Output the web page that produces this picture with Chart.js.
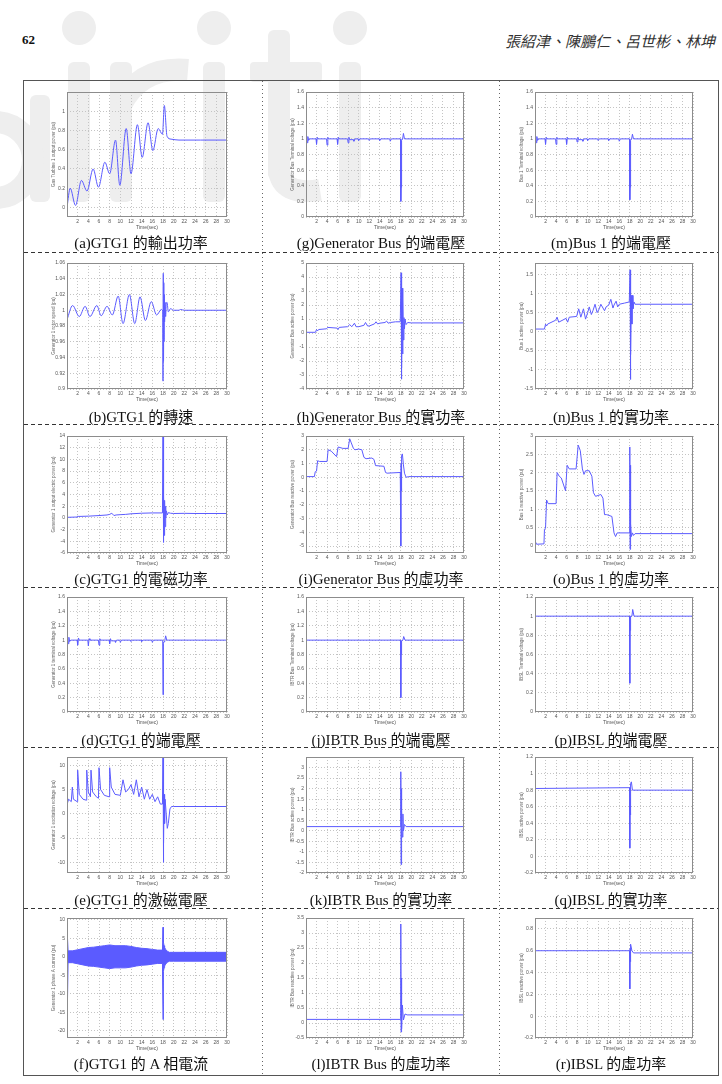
<!DOCTYPE html>
<html><head><meta charset="utf-8">
<script src="https://cdn.jsdelivr.net/npm/chart.js@4.4.1/dist/chart.umd.min.js"></script>
<style>
html,body{margin:0;padding:0;background:#fff;}
body{width:722px;height:1084px;position:relative;overflow:hidden;}
#wm{position:absolute;left:0;top:0;}
.pg{position:absolute;left:22px;top:32px;font:bold 13px "Liberation Serif";color:#111;}
.auth{position:absolute;left:505px;top:30px;font:italic 15px "Noto Sans CJK TC";white-space:nowrap;color:#333;}
#box{position:absolute;left:23px;top:80px;width:694px;height:994px;border:1px solid #555;}
.vsep{position:absolute;top:81px;height:994px;width:1px;background:repeating-linear-gradient(to bottom,#666 0 1px,transparent 1px 4px);}
.hsep{position:absolute;left:24px;width:694px;height:1px;background:repeating-linear-gradient(to right,#333 0 4px,transparent 4px 7px);}
.cap{position:absolute;font:15px "Liberation Serif","Noto Sans CJK TC";transform:translate(-50%,-50%);white-space:nowrap;color:#111;}
canvas{position:absolute;}
</style></head><body>
<svg id="wm" width="722" height="260" viewBox="0 0 722 260">
 <g fill="#eeeeee" stroke="none">
  <circle cx="79" cy="28" r="17"/><rect x="68" y="62" width="22" height="140" rx="6"/>
  <rect x="110" y="62" width="22" height="140" rx="6"/>
  <circle cx="214" cy="28" r="17"/><rect x="203" y="62" width="22" height="140" rx="6"/>
  <rect x="268" y="30" width="22" height="150" rx="6"/><rect x="250" y="62" width="72" height="20" rx="4"/>
  <circle cx="350" cy="28" r="17"/><rect x="339" y="62" width="22" height="140" rx="6"/>
  <rect x="30" y="95" width="20" height="107" rx="6"/>
 </g>
 <g fill="none" stroke="#eeeeee" stroke-width="22">
  <path d="M121 105 Q140 66 188 70"/>
  <path d="M279 170 Q282 196 320 190"/>
  <circle cx="-5" cy="160" r="38"/>
 </g>
</svg>
<div class="pg">62</div>
<div class="auth">張紹津、陳鵬仁、呂世彬、林坤</div>
<div id="box"></div>
<div class="vsep" style="left:262px"></div>
<div class="vsep" style="left:499px"></div>
<div class="hsep" style="top:252px"></div>
<div class="hsep" style="top:424px"></div>
<div class="hsep" style="top:587px"></div>
<div class="hsep" style="top:747px"></div>
<div class="hsep" style="top:908px"></div>
<script>
// ---------- DATA ----------
const xTicks = [0,2,4,6,8,10,12,14,16,18,20,22,24,26,28,30];

// (a) GTG1 output power
const aTime  = [0,0.6,1.6,2.7,3.75,4.9,5.9,7.1,8.0,9.1,9.9,11.1,12.0,13.2,14.1,15.2,16.1,17.1,17.9,18.25,18.75,19.5,21,25,30];
const aValue = [0,0.20,0.02,0.28,0.17,0.40,0.21,0.47,0.35,0.70,0.23,0.82,0.35,0.86,0.52,0.88,0.59,0.82,0.76,1.06,0.74,0.71,0.70,0.70,0.70];
const aTicks = [0,0.2,0.4,0.6,0.8,1];

// (b) GTG1 rotor speed
const bTime  = [0,1.05,2.3,3.4,4.3,5.6,6.4,7.5,8.5,9.6,10.5,11.7,12.7,13.7,14.7,15.8,16.8,17.7,17.95,18.0,18.05,18.1,18.15,18.2,18.25,18.3,18.4,18.5,18.6,18.75,19.0,19.4,20,21,21.3,22,30];
const bValue = [0.988,1.006,0.992,1.005,0.992,1.006,0.993,1.005,0.994,1.018,0.983,1.020,0.983,1.017,0.987,1.011,0.994,1.001,0.999,0.91,1.047,0.935,1.035,0.96,1.02,0.985,1.01,0.992,1.008,1.01,0.998,1.002,1.0,1.0,1.001,1.0,1.0];
const bTicks = [0.9,0.92,0.94,0.96,0.98,1,1.02,1.04,1.06];

// (c) GTG1 electric power
const cTime  = [0,0.02,0.04,0.1,1.9,2.0,2.2,4,6,7.5,8,8.4,8.8,9.2,10,11,12,14,16,17.9,18.0,18.03,18.08,18.13,18.18,18.23,18.3,18.38,18.46,18.55,18.65,18.8,19.0,19.4,20,22,24,30];
const cValue = [-8,16,0.1,0.1,0.15,0.3,0.25,0.3,0.4,0.5,0.6,0.8,0.4,0.5,0.55,0.6,0.7,0.8,0.85,0.85,16,-3.5,4.8,-4.2,4.0,-3.0,3.0,-1.5,2.0,0.0,1.2,0.5,0.9,0.8,0.75,0.78,0.75,0.75];
const cTicks = [-6,-4,-2,0,2,4,6,8,10,12,14];

// terminal voltages (d) GTG1, (g) Generator Bus, (m) Bus 1
const voltTime = [0,0.03,0.08,0.15,0.25,0.35,0.5,0.7,1.9,2.0,2.15,2.3,3.9,4.0,4.15,4.3,5.9,6.0,6.15,6.3,7.9,8.0,8.15,8.3,9.0,9.1,9.3,9.9,10.0,10.2,11.9,12.0,12.2,13.9,14.0,14.2,15.9,16.0,16.2,17.95,18.0,18.05,18.1,18.2,18.35,18.5,18.7,19.0,30];
const dValue = [1.0,1.56,0.88,1.03,0.95,1.04,0.98,1.0,1.0,0.93,1.03,1.0,1.0,0.92,1.02,1.0,1.0,0.93,1.02,1.0,1.0,0.95,1.02,0.99,0.99,0.97,1.0,1.0,0.97,1.0,1.0,0.98,1.0,1.0,0.98,1.0,1.0,0.97,1.0,1.0,0.24,0.6,0.95,0.98,1.0,1.06,1.0,1.0,1.0];
const gValue = [1.0,1.57,0.89,1.03,0.95,1.03,0.98,1.0,1.0,0.93,1.02,1.0,1.0,0.92,1.02,1.0,1.0,0.93,1.02,1.0,1.0,0.95,1.02,0.99,0.99,0.97,1.0,1.0,0.98,1.0,1.0,0.98,1.0,1.0,0.98,1.0,1.0,0.97,1.0,1.0,0.2,0.38,0.95,0.98,1.0,1.07,1.0,1.0,1.0];
const mValue = [1.0,1.56,0.88,1.03,0.95,1.03,0.98,1.0,1.0,0.93,1.02,1.0,1.0,0.93,1.02,1.0,1.0,0.93,1.02,1.0,1.0,0.96,1.02,0.99,0.99,0.97,1.0,1.0,0.98,1.0,1.0,0.98,1.0,1.0,0.98,1.0,1.0,0.97,1.0,1.0,0.22,0.38,0.95,0.98,1.0,1.06,1.0,1.0,1.0];
const voltTicks = [0,0.2,0.4,0.6,0.8,1,1.2,1.4,1.6];

// (e) GTG1 excitation voltage
const eTime  = [0,0.02,0.05,0.3,0.8,1.0,1.2,1.9,2.0,2.3,3.0,3.6,3.7,4.0,4.4,4.5,4.8,5.5,5.9,6.0,6.3,7.0,7.9,8.0,8.3,9.0,10.0,10.5,11.0,11.5,12.0,12.5,13.0,13.5,14.0,14.5,15.0,15.5,16.0,16.5,17.0,17.5,17.9,18.0,18.05,18.1,18.15,18.2,18.3,18.4,18.6,18.8,19.0,19.3,19.6,20,30];
const eValue = [-14,14,2,3,2.5,5.5,3,2.5,9,4,3,2.8,9,4.5,3.5,9,4.5,3.5,3.2,9.5,5,3.8,3.5,9.5,5.5,4,3.8,7,4.5,5,6,4,7,3.5,5.5,3,5,3,4,2.5,3.5,2,2,14,-10,8,-6,4,-2,3,0,-3,-2,1,1.5,1.5,1.5];
const eTicks = [-10,-5,0,5,10];

// (f) GTG1 phase A current (envelope of the AC band)
const fTime  = [0,0.05,0.2,1,2,3,4,5,6,7,8,9,10,11,12,13,14,15,16,17,17.9,18.0,18.05,18.1,18.2,18.3,18.5,18.8,19.2,20,30];
const fUpper = [8,8,1.6,1.6,1.9,2.2,2.5,2.6,2.8,3.0,3.2,3.0,3.0,3.0,2.8,2.5,2.3,2.2,2.0,1.8,1.8,8,5,4,3,2.5,2,1.5,1.2,1.2,1.2];
const fLower = [-20,-20,-1.6,-1.6,-1.9,-2.2,-2.5,-2.6,-2.8,-3.0,-3.2,-3.0,-3.0,-3.0,-2.8,-2.5,-2.3,-2.2,-2.0,-1.8,-1.8,-17,-6,-4,-3,-2.5,-2,-1.5,-1.2,-1.2,-1.2];
const fTicks = [-20,-15,-10,-5,0,5,10];

// (h) Generator Bus active power
const hTime  = [0,1.8,2.0,2.2,2.4,3.9,4.1,5.9,6.1,6.3,7.9,8.3,8.7,9.2,9.5,10,11,11.3,11.7,12,13,13.3,13.6,14,15,15.3,15.6,16,17,17.9,18.05,18.1,18.15,18.2,18.3,18.35,18.4,18.5,18.6,18.7,18.8,19,19.3,20,30];
const hValue = [0.05,0.05,0.25,0.15,0.25,0.3,0.4,0.35,0.25,0.4,0.45,0.6,0.45,0.7,0.45,0.45,0.55,0.75,0.5,0.5,0.65,0.8,0.65,0.7,0.75,0.85,0.7,0.75,0.8,0.8,4.3,-3.3,4.2,-2.5,3.2,-1.5,2.5,-0.5,1.1,0.3,1.0,0.6,0.75,0.72,0.72];
const hTicks = [-4,-3,-2,-1,0,1,2,3,4,5];

// (i) Generator Bus reactive power
const iTime  = [0,1.6,1.75,2.0,2.2,2.6,4.0,4.2,4.8,5.8,6.1,7.0,8.0,8.3,8.6,9.0,9.3,10.0,10.6,11.0,11.4,12.5,12.9,13.2,14.8,15.1,15.4,17.9,18.0,18.05,18.1,18.2,18.3,18.5,18.7,19.0,19.5,30];
const iValue = [0.05,0.05,0.4,0.45,1.2,1.15,1.15,2.0,1.9,1.5,2.2,2.1,2.1,2.8,2.5,2.1,2.0,2.05,2.0,1.45,1.35,1.4,1.3,0.85,0.8,0.35,0.3,0.35,-5.0,1.0,-1.0,1.6,1.7,0.9,0.3,0.0,0.05,0.05];
const iTicks = [-5,-4,-3,-2,-1,0,1,2,3];

// (j) IBTR Bus terminal voltage, (p) IBSL terminal voltage
const jTime  = [0,17.95,18.0,18.05,18.1,18.2,18.4,18.55,18.8,30];
const jValue = [1.0,1.0,0.2,0.8,0.97,0.99,1.0,1.05,1.0,1.0];
const pTime  = [0,17.95,18.0,18.05,18.1,18.2,18.4,18.55,18.8,30];
const pValue = [1.0,1.0,0.3,0.85,0.97,1.0,1.0,1.07,1.0,1.0];
const pTicks = [0,0.2,0.4,0.6,0.8,1,1.2];

// (k) IBTR Bus active power
const kTime  = [0,17.95,18.0,18.05,18.1,18.15,18.2,18.3,18.4,18.5,18.7,19,30];
const kValue = [0.2,0.2,2.8,-1.6,2.0,-1.0,1.0,-0.3,0.8,0.0,0.3,0.2,0.2];
const kTicks = [-2,-1.5,-1,-0.5,0,0.5,1,1.5,2,2.5,3];

// (l) IBTR Bus reactive power
const lTime  = [0,17.95,18.0,18.05,18.1,18.2,18.3,18.5,18.8,19.2,30];
const lValue = [0.12,0.12,3.3,-0.3,1.5,-0.2,0.6,0.1,0.3,0.27,0.27];
const lTicks = [-0.5,0,0.5,1,1.5,2,2.5,3,3.5];

// (n) Bus 1 active power
const nTime  = [0,1.8,2.0,2.2,2.4,3.9,4.2,4.5,5.9,6.2,6.5,7.9,8.3,8.7,9.2,9.6,10,10.3,10.7,11,11.4,11.8,12.2,12.5,13.2,13.5,14,14.4,14.8,15,15.4,15.7,16,17,17.9,18.05,18.1,18.15,18.2,18.3,18.4,18.5,18.6,18.8,19,30];
const nValue = [0.07,0.07,0.2,0.15,0.2,0.3,0.38,0.25,0.35,0.25,0.38,0.4,0.6,0.38,0.6,0.33,0.5,0.65,0.45,0.55,0.72,0.5,0.6,0.72,0.55,0.65,0.7,0.85,0.62,0.7,0.8,0.65,0.72,0.75,0.78,1.62,-1.25,1.4,-0.6,0.95,0.2,0.95,0.6,0.78,0.72,0.72];
const nTicks = [-1.5,-1,-0.5,0,0.5,1,1.5];

// (o) Bus 1 reactive power
const oTime  = [0,0.1,0.3,1.7,1.8,2.0,2.2,2.5,4.0,4.2,4.6,5.0,5.8,6.1,6.5,7.8,8.2,8.6,9.0,9.3,9.6,10.3,10.8,11.1,11.5,12.5,12.9,13.2,13.6,14.6,15.0,15.3,15.6,17.9,18.0,18.05,18.1,18.2,18.3,18.5,18.7,19.0,30];
const oValue = [0.05,0.1,0.04,0.05,0.45,0.48,1.25,1.15,1.15,2.0,1.9,1.85,1.5,2.2,2.1,2.1,2.75,2.6,2.1,1.95,2.05,2.05,1.9,1.45,1.35,1.4,1.3,0.85,0.85,0.8,0.35,0.25,0.35,0.35,2.7,-0.1,2.2,0.6,0.25,0.35,0.28,0.33,0.33];
const oTicks = [0,0.5,1,1.5,2,2.5,3];

// (q) IBSL active power
const qTime  = [0,17.95,18.0,18.05,18.1,18.2,18.3,18.5,18.8,30];
const qValue = [0.82,0.83,0.1,0.7,0.5,0.88,0.9,0.8,0.8,0.8];
const qTicks = [-0.2,0,0.2,0.4,0.6,0.8,1,1.2];

// (r) IBSL reactive power
const rTime  = [0,17.95,18.0,18.05,18.1,18.2,18.4,18.7,30];
const rValue = [0.6,0.6,0.25,0.62,0.5,0.66,0.6,0.58,0.58];
const rTicks = [-0.2,0,0.2,0.4,0.6,0.8];

const captions = [
 ['(a)GTG1 的輸出功率','(g)Generator Bus 的端電壓','(m)Bus 1 的端電壓'],
 ['(b)GTG1 的轉速','(h)Generator Bus 的實功率','(n)Bus 1 的實功率'],
 ['(c)GTG1 的電磁功率','(i)Generator Bus 的虛功率','(o)Bus 1 的虛功率'],
 ['(d)GTG1 的端電壓','(j)IBTR Bus 的端電壓','(p)IBSL 的端電壓'],
 ['(e)GTG1 的激磁電壓','(k)IBTR Bus 的實功率','(q)IBSL 的實功率'],
 ['(f)GTG1 的 A 相電流','(l)IBTR Bus 的虛功率','(r)IBSL 的虛功率']
];

const specs = [
 {col:0,row:0,time:aTime,values:aValue,yMin:-0.1,yMax:1.2,yTicks:aTicks,yTitle:'Gas Turbine 1 output power (pu)',smooth:true},
 {col:0,row:1,time:bTime,values:bValue,yMin:0.9,yMax:1.06,yTicks:bTicks,yTitle:'Generator 1 rotor speed (pu)',smooth:true},
 {col:0,row:2,time:cTime,values:cValue,yMin:-6,yMax:14,yTicks:cTicks,yTitle:'Generator 1 output electric power (pu)'},
 {col:0,row:3,time:voltTime,values:dValue,yMin:0,yMax:1.6,yTicks:voltTicks,yTitle:'Generator 1 terminal voltage (pu)'},
 {col:0,row:4,time:eTime,values:eValue,yMin:-12.2,yMax:11.7,yTicks:eTicks,yTitle:'Generator 1 excitation voltage (pu)'},
 {col:0,row:5,time:fTime,values:fUpper,lower:fLower,yMin:-22,yMax:10.5,yTicks:fTicks,yTitle:'Generator 1 phase A current (pu)'},
 {col:1,row:0,time:voltTime,values:gValue,yMin:0,yMax:1.6,yTicks:voltTicks,yTitle:'Generator Bus Terminal voltage (pu)'},
 {col:1,row:1,time:hTime,values:hValue,yMin:-4,yMax:5,yTicks:hTicks,yTitle:'Generator Bus active power (pu)'},
 {col:1,row:2,time:iTime,values:iValue,yMin:-5.5,yMax:3,yTicks:iTicks,yTitle:'Generator Bus reactive power (pu)'},
 {col:1,row:3,time:jTime,values:jValue,yMin:0,yMax:1.6,yTicks:voltTicks,yTitle:'IBTR Bus Terminal voltage (pu)'},
 {col:1,row:4,time:kTime,values:kValue,yMin:-2,yMax:3.5,yTicks:kTicks,yTitle:'IBTR Bus active power (pu)'},
 {col:1,row:5,time:lTime,values:lValue,yMin:-0.5,yMax:3.5,yTicks:lTicks,yTitle:'IBTR Bus reactive power (pu)'},
 {col:2,row:0,time:voltTime,values:mValue,yMin:0,yMax:1.6,yTicks:voltTicks,yTitle:'Bus 1 Terminal voltage (pu)'},
 {col:2,row:1,time:nTime,values:nValue,yMin:-1.5,yMax:1.8,yTicks:nTicks,yTitle:'Bus 1 active power (pu)'},
 {col:2,row:2,time:oTime,values:oValue,yMin:-0.2,yMax:3,yTicks:oTicks,yTitle:'Bus 1 reactive power (pu)'},
 {col:2,row:3,time:pTime,values:pValue,yMin:0,yMax:1.2,yTicks:pTicks,yTitle:'IBSL Terminal voltage (pu)'},
 {col:2,row:4,time:qTime,values:qValue,yMin:-0.2,yMax:1.2,yTicks:qTicks,yTitle:'IBSL active power (pu)'},
 {col:2,row:5,time:rTime,values:rValue,yMin:-0.2,yMax:0.9,yTicks:rTicks,yTitle:'IBSL reactive power (pu)'}
];

// ---------- LAYOUT ----------
const COLS = [{l:67,r:227,c:141},{l:306,r:464,c:381},{l:535,r:693,c:611}];
const ROWS = [{t:92,b:217,cap:241},{t:263,b:389,cap:415},{t:436,b:553,cap:577},{t:597,b:712,cap:738},{t:757,b:873,cap:898},{t:918,b:1038,cap:1062}];
const LINE = '#5b5bff';

const framePlugin = {id:'frame', afterDraw(chart){
  const {ctx, chartArea:a} = chart;
  ctx.save(); ctx.strokeStyle='#8c8c8c'; ctx.lineWidth=1;
  ctx.strokeRect(Math.round(a.left)+0.5, Math.round(a.top)+0.5, Math.round(a.right-a.left)-1, Math.round(a.bottom-a.top)-1);
  ctx.restore();
}};

function build(s){
  const C=COLS[s.col], R=ROWS[s.row];
  const PADL=30, PADR=7, PADT=6, XH=14;
  const w=C.r-C.l+PADL+PADR, h=R.b-R.t+PADT+XH;
  const cv=document.createElement('canvas');
  cv.width=w; cv.height=h;
  cv.style.cssText=`left:${C.l-PADL}px;top:${R.t-PADT}px;width:${w}px;height:${h}px`;
  document.body.appendChild(cv);
  const pts=(t,v)=>t.map((x,i)=>({x:x,y:v[i]}));
  let datasets;
  if(s.lower){
    datasets=[
      {data:pts(s.time,s.values),borderColor:LINE,backgroundColor:LINE,borderWidth:1,pointRadius:0,fill:'+1'},
      {data:pts(s.time,s.lower),borderColor:LINE,borderWidth:1,pointRadius:0,fill:false}
    ];
  } else {
    datasets=[{data:pts(s.time,s.values),borderColor:LINE,borderWidth:1,pointRadius:0,fill:false,
      tension:s.smooth?0.4:0,cubicInterpolationMode:s.smooth?'monotone':'default'}];
  }
  const tickFont={family:'Liberation Sans',size:5};
  new Chart(cv,{type:'line',data:{datasets},plugins:[framePlugin],options:{
    responsive:false,animation:false,events:[],
    layout:{padding:{left:0,right:PADR,top:PADT,bottom:0}},
    plugins:{legend:{display:false},tooltip:{enabled:false}},
    scales:{
      x:{type:'linear',min:0,max:30,
        afterBuildTicks:sc=>{sc.ticks=xTicks.map(v=>({value:v}));},
        afterFit:sc=>{sc.height=XH;},
        ticks:{font:tickFont,color:'#555',padding:2,maxRotation:0,autoSkip:false,callback:v=>v===0?'':String(v)},
        grid:{color:'#c4c4c4',drawTicks:false},border:{display:false,dash:[1,2]},
        title:{display:true,text:'Time(sec)',font:tickFont,color:'#555',padding:0}},
      y:{type:'linear',min:s.yMin,max:s.yMax,
        afterBuildTicks:sc=>{sc.ticks=s.yTicks.map(v=>({value:v}));},
        afterFit:sc=>{sc.width=PADL;},
        ticks:{font:tickFont,color:'#555',padding:2,autoSkip:false,callback:v=>String(+Number(v).toFixed(3))},
        grid:{color:'#c4c4c4',drawTicks:false},border:{display:false,dash:[1,2]},
        title:{display:true,text:s.yTitle,font:{family:'Liberation Sans',size:4.5},color:'#666',padding:{top:14,bottom:0}}}
    }}});
  const cap=document.createElement('div');
  cap.className='cap';
  cap.textContent=captions[s.row][s.col];
  cap.style.left=C.c+'px'; cap.style.top=R.cap+'px';
  document.body.appendChild(cap);
}
specs.forEach(build);
</script>
</body></html>
